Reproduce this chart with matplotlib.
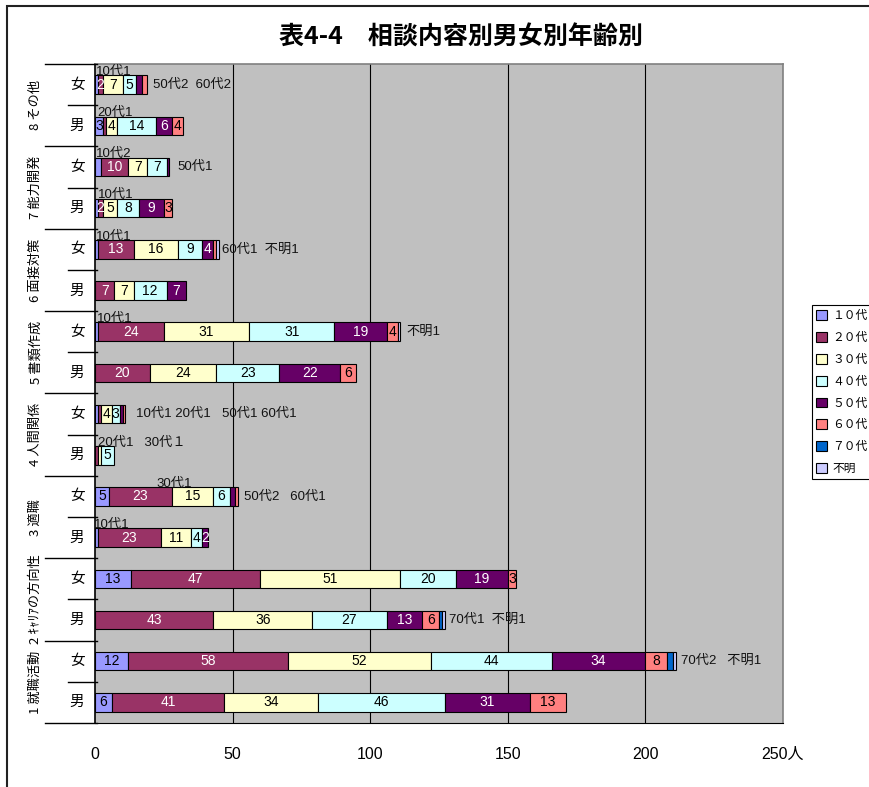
import matplotlib
matplotlib.use('Agg')
import matplotlib.pyplot as plt
from matplotlib.patches import Rectangle, Patch

JP = ['Noto Sans CJK JP', 'DejaVu Sans']
AR = ['Liberation Sans', 'Noto Sans CJK JP', 'DejaVu Sans']
plt.rcParams['font.family'] = JP

# ---- data (rows from bottom: group 1 男, group 1 女, group 2 男, ...) ----
groups = ['1 就職活動', '2 ｷｬﾘｱの方向性', '3 適職', '4 人間関係',
          '5 書類作成', '6 面接対策', '7 能力開発', '8 その他']
sexes = ['男', '女']
series_names = ['１０代', '２０代', '３０代', '４０代', '５０代', '６０代', '７０代', '不明']
series_colors = ['#9999FF', '#993366', '#FFFFCC', '#CCFFFF', '#660066', '#FF8080', '#0066CC', '#CCCCFF']
label_colors = ['black', 'white', 'black', 'black', 'white', 'black', 'white', 'black']

v10 = [6, 12, 0, 13, 1, 5, 0, 1, 0, 1, 0, 1, 1, 2, 3, 1]
v20 = [41, 58, 43, 47, 23, 23, 1, 1, 20, 24, 7, 13, 2, 10, 1, 2]
v30 = [34, 52, 36, 51, 11, 15, 1, 4, 24, 31, 7, 16, 5, 7, 4, 7]
v40 = [46, 44, 27, 20, 4, 6, 5, 3, 23, 31, 12, 9, 8, 7, 14, 5]
v50 = [31, 34, 13, 19, 2, 2, 0, 1, 22, 19, 7, 4, 9, 1, 6, 2]
v60 = [13, 8, 6, 3, 0, 1, 0, 1, 6, 4, 0, 1, 3, 0, 4, 2]
v70 = [0, 2, 1, 0, 0, 0, 0, 0, 0, 0, 0, 0, 0, 0, 0, 0]
vunk = [0, 1, 1, 0, 0, 0, 0, 0, 0, 1, 0, 1, 0, 0, 0, 0]
series_values = [v10, v20, v30, v40, v50, v60, v70, vunk]

# segments whose value is written outside instead of inside (row, series index)
inside_hidden = [(15, 4), (15, 5), (5, 4), (1, 6), (13, 0)]

# external notes: row, x (data units), text, placement
note_rows = [15, 15, 14, 13, 13, 12, 11, 11, 9, 9, 7, 7, 6, 5, 5, 4, 2, 1]
note_x = [0.5, 21, 0.8, 0.5, 30, 1.2, 0.5, 46, 0.8, 113, 15, 46, 1.0, 22.5, 54, -0.3, 128.5, 213]
note_text = ['10代1', '50代2  60代2', '20代1', '10代2', '50代1', '10代1', '10代1', '60代1  不明1',
             '10代1', '不明1', '10代1 20代1', '50代1 60代1', '20代1   30代１', '30代1',
             '50代2   60代1', '10代1', '70代1  不明1', '70代2   不明1']
note_pos = ['above', 'right', 'above', 'above', 'right', 'above', 'above', 'right',
            'above', 'right', 'right', 'right', 'above', 'above', 'right', 'above', 'right', 'right']

xticks = [0, 50, 100, 150, 200, 250]
xticklabels = ['0', '50', '100', '150', '200', '250人']
title = '表4-4　相談内容別男女別年齢別'

# ---- figure ----
fig = plt.figure(figsize=(8.7, 7.87), dpi=100)
W, H = 870, 787
ax = fig.add_axes([95 / W, 1 - 723 / H, 688 / W, 659 / H])
ax.set_facecolor('#C0C0C0')

n = len(v10)
rows = list(range(n))
bh = 0.45
left = [0] * n
for si, (vals, col) in enumerate(zip(series_values, series_colors)):
    ys = [r for r in rows if vals[r] > 0]
    ws = [vals[r] for r in ys]
    ls = [left[r] for r in ys]
    ax.barh(ys, ws, left=ls, height=bh, color=col, edgecolor='black', linewidth=0.8, zorder=3)
    for r in ys:
        if vals[r] >= 2 and (r, si) not in inside_hidden:
            ax.text(left[r] + vals[r] / 2, r, str(vals[r]), ha='center', va='center',
                    fontsize=10, color=label_colors[si], family=AR, zorder=4)
    for r in rows:
        left[r] += vals[r]

for r, x, t, p in zip(note_rows, note_x, note_text, note_pos):
    yy = r + 0.31 if p == 'above' else r
    ax.text(x, yy, t, ha='left', va='center', fontsize=9.5, color='#111111', family=AR, zorder=5)

ax.set_xlim(0, 250)
ax.set_ylim(-0.5, n - 0.5)
ax.set_xticks(xticks)
ax.set_xticklabels(xticklabels, family=AR, fontsize=11.5)
ax.tick_params(axis='x', length=0, pad=17)
ax.set_yticks([])
for x in xticks[1:-1]:
    ax.axvline(x, color='black', lw=0.8, zorder=1)
ax.spines['left'].set_color('black')
ax.spines['left'].set_linewidth(1.2)
ax.spines['bottom'].set_color('black')
ax.spines['top'].set_color('#808080')
ax.spines['right'].set_color('#808080')
ax.spines['top'].set_linewidth(1.2)
ax.spines['right'].set_linewidth(1.2)

# category labels
ytr = ax.get_yaxis_transform()
for r in rows:
    ax.text(-0.026, r, sexes[r % 2], transform=ytr, ha='center', va='center', fontsize=10.5)
for gi, g in enumerate(groups):
    ax.text(-0.086, 2 * gi + 0.5, g, transform=ytr, ha='center', va='center',
            rotation=90, fontsize=9.5)
for k in range(n + 1):
    yb = k - 0.5
    x0 = -0.073 if k % 2 == 0 else -0.039
    ax.plot([x0, 0.003], [yb, yb], transform=ytr, color='black', lw=1.0, clip_on=False, zorder=6)

fig.text(461 / W, 1 - 38 / H, title, ha='center', va='center', fontsize=18, fontweight='bold')

handles = [Patch(facecolor=c, edgecolor='black', linewidth=0.8) for c in series_colors]
leg = fig.legend(handles, series_names, loc='upper left', bbox_to_anchor=(812 / W, 1 - 305 / H),
                 fontsize=8.5, frameon=True, fancybox=False, edgecolor='black', framealpha=1,
                 handlelength=0.9, handleheight=0.9, handletextpad=0.45, labelspacing=0.75,
                 borderpad=0.35, borderaxespad=0)
leg.get_frame().set_linewidth(0.8)

fig.add_artist(Rectangle((7 / W, -0.1), 1.2, 1.1 - 6 / H, transform=fig.transFigure,
                         fill=False, edgecolor='#222222', lw=1.5))

fig.savefig('out.png', dpi=100)
